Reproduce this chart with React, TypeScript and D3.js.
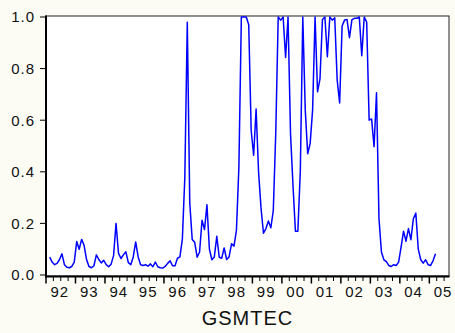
import React from "react";
import * as d3 from "d3";

// Monthly observations of GSMTEC, starting 1992M2 (month index 1 = Feb 1992)
const startMonthIndex = 1;
const gsmtec: number[] = [
  0.069, 0.05, 0.04, 0.045, 0.06, 0.082, 0.04, 0.03, 0.028, 0.033,
  0.05, 0.13, 0.1, 0.138, 0.115, 0.06, 0.033, 0.028, 0.036, 0.078,
  0.06, 0.047, 0.057, 0.04, 0.032, 0.042, 0.075, 0.2, 0.085, 0.064,
  0.078, 0.09, 0.048, 0.04, 0.07, 0.128, 0.07, 0.04, 0.037, 0.04,
  0.034, 0.043, 0.032, 0.05, 0.032, 0.028, 0.027, 0.033, 0.045, 0.055,
  0.036, 0.036, 0.065, 0.07, 0.14, 0.38, 0.98, 0.28, 0.138, 0.127,
  0.069, 0.089, 0.212, 0.176, 0.272, 0.1, 0.059, 0.07, 0.15, 0.069,
  0.065, 0.105, 0.06, 0.07, 0.121, 0.112, 0.173, 0.42, 1.0, 1.0,
  1.0, 0.97, 0.56, 0.464, 0.643, 0.4, 0.26, 0.162, 0.18, 0.209,
  0.183, 0.25, 0.55, 1.0, 0.988, 1.0, 0.843, 1.0, 0.55, 0.35,
  0.17, 0.17, 0.405, 1.0, 0.64, 0.47, 0.51, 0.64, 1.0, 0.71,
  0.76, 0.99, 1.0, 0.846, 1.0, 0.988, 0.997, 0.755, 0.667, 0.965,
  0.988, 0.99, 0.92, 0.99, 0.995, 0.995, 1.0, 0.85, 1.0, 0.98,
  0.6, 0.605, 0.497, 0.706, 0.22, 0.089, 0.059, 0.052, 0.037, 0.033,
  0.04, 0.037, 0.05, 0.108, 0.17, 0.131, 0.18, 0.137, 0.218, 0.24,
  0.1, 0.059, 0.046, 0.059, 0.04, 0.037, 0.055, 0.082,
];

const yearTicks = d3.range(1992, 2006);
const yearLabels = ["92", "93", "94", "95", "96", "97", "98", "99", "00", "01", "02", "03", "04", "05"];
const yTickValues = [0, 0.2, 0.4, 0.6, 0.8, 1.0];
const seriesName = "GSMTEC";

const W = 455;
const H = 333;
const plot = { left: 46, right: 449, top: 17, bottom: 275 };
const xDomainEnd = 2005 + 8 / 12;

export default function App() {
  const x = d3.scaleLinear().domain([1992, xDomainEnd]).range([plot.left, plot.right]);
  const y = d3.scaleLinear().domain([0, 1]).range([plot.bottom, plot.top]);

  const pts = gsmtec.map((v, k) => ({ t: 1992 + (startMonthIndex + k + 0.5) / 12, v }));
  const line = d3
    .line<{ t: number; v: number }>()
    .x((d) => x(d.t))
    .y((d) => y(d.v));

  const quarterTicks = d3.range(1992 * 4, Math.floor(xDomainEnd * 4) + 1).map((q) => q / 4);
  const axisY = plot.bottom + 1.5;
  const font = "Arial, 'Liberation Sans', sans-serif";

  return (
    <svg
      width={W}
      height={H}
      style={{ position: "absolute", left: 0, top: 0, background: "#fcfcf5" }}
    >
      <rect x={0} y={0} width={W} height={H} fill="#fcfcf5" />
      <rect
        x={plot.left}
        y={plot.top - 1}
        width={plot.right - plot.left}
        height={plot.bottom - plot.top + 2}
        fill="#ffffff"
        stroke="#222"
        strokeWidth={1}
      />
      <path d={line(pts) ?? ""} fill="none" stroke="#0000ff" strokeWidth={1.5} strokeLinejoin="round" />

      {/* left axis */}
      <line x1={plot.left} x2={plot.left} y1={plot.top - 1.5} y2={axisY + 1} stroke="#000" strokeWidth={2} />
      {yTickValues.map((v) => (
        <g key={v}>
          <line x1={plot.left - 6} x2={plot.left} y1={y(v)} y2={y(v)} stroke="#000" strokeWidth={1} />
          <text
            x={35}
            y={y(v)}
            dy="0.36em"
            textAnchor="end"
            fontFamily={font}
            fontSize={15}
            letterSpacing={1}
            fill="#111"
          >
            {v.toFixed(1)}
          </text>
        </g>
      ))}

      {/* bottom axis */}
      <line x1={plot.left - 1} x2={plot.right + 0.5} y1={axisY} y2={axisY} stroke="#000" strokeWidth={2} />
      {quarterTicks.map((q) => {
        const major = Math.abs(q - Math.round(q)) < 1e-9;
        return (
          <line
            key={q}
            x1={x(q)}
            x2={x(q)}
            y1={axisY}
            y2={axisY + (major ? 7 : 4.5)}
            stroke="#000"
            strokeWidth={major ? 1.5 : 1}
          />
        );
      })}
      {yearTicks.map((yr, k) => (
        <text
          key={yr}
          x={x(yr + 0.5) - 1}
          y={296.5}
          textAnchor="middle"
          fontFamily={font}
          fontSize={15}
          letterSpacing={1}
          fill="#111"
        >
          {yearLabels[k]}
        </text>
      ))}

      <text
        x={(plot.left + plot.right) / 2}
        y={325}
        textAnchor="middle"
        fontFamily={font}
        fontSize={20}
        letterSpacing={1}
        fill="#111"
      >
        {seriesName}
      </text>
    </svg>
  );
}
